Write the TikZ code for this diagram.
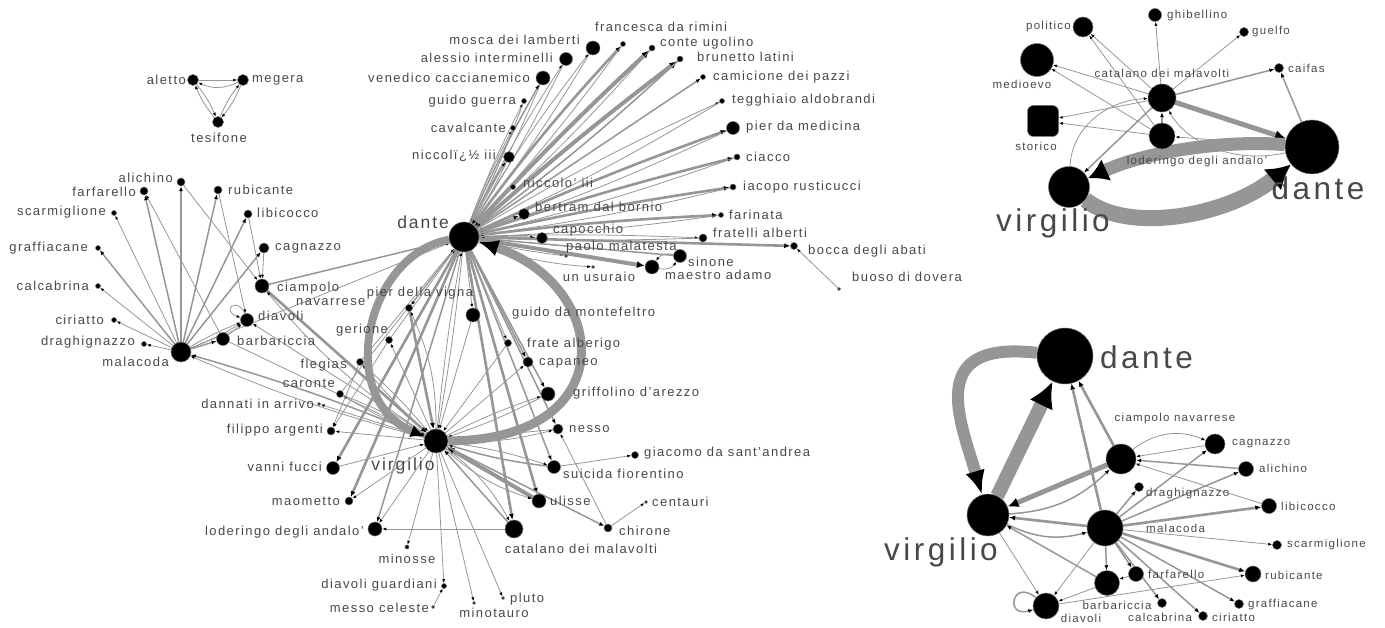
\documentclass[tikz,border=0pt]{standalone}
\usepackage{fontspec}
\setmainfont{Liberation Sans}[LetterSpace=11]
\usetikzlibrary{arrows.meta,backgrounds}
\definecolor{eg}{RGB}{150,150,150}
\definecolor{tx}{RGB}{72,72,72}
\tikzset{
 nd/.style={circle,fill=black,draw=black!55,line width=0.5pt,inner sep=0pt,minimum size=#1},
 lb/.style={text=tx,font=\fontsize{13}{13}\selectfont,inner sep=0pt},
 lbs/.style={text=tx,font=\fontsize{11.5}{11.5}\selectfont,inner sep=0pt},
 lbm/.style={text=tx,font=\fontsize{17.5}{17.5}\selectfont,inner sep=0pt},
 lbh/.style={text=tx,font=\fontsize{31.5}{31.5}\selectfont,inner sep=0pt},
 a1/.style={draw=eg,line width=0.8pt,-{Latex[color=black,length=4pt,width=3pt]}},
 a2/.style={draw=eg,line width=1.5pt,-{Latex[color=black,length=5pt,width=4pt]}},
 a3/.style={draw=eg,line width=2.6pt,-{Latex[color=black,length=6pt,width=5pt]}},
 a4/.style={draw=eg,line width=4pt,-{Latex[color=black,length=8pt,width=7pt]}},
}
\begin{document}
\begin{tikzpicture}[x=1pt,y=-1pt]
\useasboundingbox (0,0) rectangle (1385,628);
% ================= main graph nodes
\node[nd=30] (dante) at (464,237) {};
\node[nd=24] (virg) at (436,441) {};
\node[lbm,anchor=east] (ldante) at (449,222) {dante};
\node[lbm] (lvirg) at (403,466) {virgilio};
% furies
\node[nd=11] (aletto) at (193,80) {};
\node[nd=11] (megera) at (243,80) {};
\node[nd=11] (tesi) at (218,122) {};
\node[lb,anchor=east] (laletto) at (186,80) {aletto};
\node[lb,anchor=west] (lmegera) at (252,80) {megera};
\node[lb] (ltesi) at (219,138) {tesifone};
% malebranche
\node[nd=8] (alich) at (181,182) {};
\node[nd=8] (farf) at (144,191) {};
\node[nd=8] (rubi) at (218,190) {};
\node[nd=5] (scarm) at (114,213) {};
\node[nd=8] (libi) at (248,214) {};
\node[nd=5] (graff) at (98,248) {};
\node[nd=10] (cagn) at (264,248) {};
\node[nd=5] (calc) at (98,286) {};
\node[nd=14] (ciamp) at (262,286) {};
\node[nd=5] (ciri) at (114,320) {};
\node[nd=13] (diav) at (247,320) {};
\node[nd=5] (drag) at (144,344) {};
\node[nd=13] (barb) at (223,339) {};
\node[nd=20] (mala) at (181,352) {};
\node[lb,anchor=east] (lalich) at (173,178) {alichino};
\node[lb,anchor=east] (lfarf) at (136,192) {farfarello};
\node[lb,anchor=west] (lrubi) at (228,190) {rubicante};
\node[lb,anchor=east] (lscarm) at (106,212) {scarmiglione};
\node[lb,anchor=west] (llibi) at (257,213) {libicocco};
\node[lb,anchor=east] (lgraff) at (88,248) {graffiacane};
\node[lb,anchor=west] (lcagn) at (275,248) {cagnazzo};
\node[lb,anchor=east] (lcalc) at (89,286) {calcabrina};
\node[lb,anchor=west] (lciamp) at (277,288) {ciampolo};
\node[lb,anchor=west] (lciampb) at (296,302) {navarrese};
\node[lb,anchor=east] (lciri) at (104,320) {ciriatto};
\node[lb,anchor=west] (ldiav) at (258,316) {diavoli};
\node[lb,anchor=east] (ldrag) at (135,342) {draghignazzo};
\node[lb,anchor=west] (lbarb) at (237,341) {barbariccia};
\node[lb,anchor=east] (lmala) at (169,362) {malacoda};
% lower left / bottom
\node[nd=7] (fleg) at (360,362) {};
\node[nd=7] (caronte) at (340,394) {};
\node[nd=3] (dann) at (319,404) {};
\node[nd=8] (filippo) at (331,431) {};
\node[nd=13] (vanni) at (333,468) {};
\node[nd=8] (maom) at (349,501) {};
\node[nd=14] (lod) at (375,529) {};
\node[nd=4] (minosse) at (407,547) {};
\node[nd=5] (dguard) at (444,586) {};
\node[nd=3] (messo) at (433,607) {};
\node[nd=3] (minot) at (474,603) {};
\node[nd=3] (pluto) at (503,598) {};
\node[nd=18] (cata) at (514,529) {};
\node[nd=14] (ulis) at (539,501) {};
\node[nd=8] (chir) at (608,528) {};
\node[nd=3] (cent) at (646,502) {};
\node[nd=7] (giac) at (635,455) {};
\node[nd=13] (suic) at (554,467) {};
\node[nd=10] (nesso) at (558,429) {};
\node[nd=14] (griff) at (548,394) {};
\node[nd=10] (capa) at (528,362) {};
\node[nd=7] (frate) at (508,343) {};
\node[nd=14] (guido) at (473,315) {};
\node[nd=7] (ger) at (389,340) {};
\node[nd=7] (pier) at (409,308) {};
\node[lb,anchor=east] (lfleg) at (347,365) {flegias};
\node[lb,anchor=east] (lcaronte) at (335,383) {caronte};
\node[lb,anchor=east] (ldann) at (314,404) {dannati in arrivo};
\node[lb,anchor=east] (lfilippo) at (323,430) {filippo argenti};
\node[lb,anchor=east] (lvanni) at (322,467) {vanni fucci};
\node[lb,anchor=east] (lmaom) at (340,501) {maometto};
\node[lb,anchor=east] (llod) at (364,532) {loderingo degli andalo'};
\node[lb] (lminosse) at (407,559) {minosse};
\node[lb,anchor=east] (ldguard) at (437,585) {diavoli guardiani};
\node[lb,anchor=east] (lmesso) at (429,608) {messo celeste};
\node[lb] (lminot) at (494,613) {minotauro};
\node[lb,anchor=west] (lpluto) at (510,599) {pluto};
\node[lb] (lcata) at (581,549) {catalano dei malavolti};
\node[lb,anchor=west] (lulis) at (550,501) {ulisse};
\node[lb,anchor=west] (lchir) at (619,531) {chirone};
\node[lb,anchor=west] (lcent) at (652,502) {centauri};
\node[lb,anchor=west] (lgiac) at (644,453) {giacomo da sant'andrea};
\node[lb,anchor=west] (lsuic) at (563,474) {suicida fiorentino};
\node[lb,anchor=west] (lnesso) at (569,429) {nesso};
\node[lb,anchor=west] (lgriff) at (573,393) {griffolino d'arezzo};
\node[lb,anchor=west] (lcapa) at (539,363) {capaneo};
\node[lb,anchor=west] (lfrate) at (527,344) {frate alberigo};
\node[lb,anchor=west] (lguido) at (512,313) {guido da montefeltro};
\node[lb] (lger) at (362,330) {gerione};
\node[lb] (lpier) at (420,293) {pier della vigna};
% dante fan
\node[nd=5] (fran) at (623,44) {};
\node[nd=14] (mosca) at (593,48) {};
\node[nd=6] (conte) at (652,48) {};
\node[nd=13] (alessio) at (566,59) {};
\node[nd=6] (brun) at (680,59) {};
\node[nd=14] (vene) at (543,78) {};
\node[nd=5] (cami) at (703,77) {};
\node[nd=5] (gguerra) at (524,101) {};
\node[nd=5] (tegg) at (722,101) {};
\node[nd=5] (caval) at (513,128) {};
\node[nd=13] (pmed) at (733,128) {};
\node[nd=11] (nicA) at (509,157) {};
\node[nd=6] (ciacco) at (737,157) {};
\node[nd=5] (nicB) at (513,187) {};
\node[nd=6] (iacopo) at (733,187) {};
\node[nd=11] (bertram) at (524,214) {};
\node[nd=5] (farinata) at (721,215) {};
\node[nd=11] (capo) at (542,238) {};
\node[nd=8] (frat) at (703,238) {};
\node[nd=7] (bocca) at (794,246) {};
\node[nd=3] (paolo) at (566,256) {};
\node[nd=13] (sinone) at (680,256) {};
\node[nd=3] (usur) at (593,267) {};
\node[nd=14] (adamo) at (652,267) {};
\node[nd=3] (buoso) at (839,289) {};
\node[lb] (lfran) at (661,27) {francesca da rimini};
\node[lb,anchor=east] (lmosca) at (580,40) {mosca dei lamberti};
\node[lb,anchor=west] (lconte) at (660,43) {conte ugolino};
\node[lb,anchor=east] (lalessio) at (553,58) {alessio interminelli};
\node[lb,anchor=west] (lbrun) at (697,57) {brunetto latini};
\node[lb,anchor=east] (lvene) at (530,78) {venedico caccianemico};
\node[lb,anchor=west] (lcami) at (713,77) {camicione dei pazzi};
\node[lb,anchor=east] (lgguerra) at (516,101) {guido guerra};
\node[lb,anchor=west] (ltegg) at (732,100) {tegghiaio aldobrandi};
\node[lb,anchor=east] (lcaval) at (506,128) {cavalcante};
\node[lb,anchor=west] (lpmed) at (746,127) {pier da medicina};
\node[lb,anchor=east] (lnicA) at (496,156) {niccolï¿½ iii};
\node[lb,anchor=west] (lciacco) at (746,157) {ciacco};
\node[lb,anchor=west] (lnicB) at (523,183) {niccolo' iii};
\node[lb,anchor=west] (liacopo) at (743,187) {iacopo rusticucci};
\node[lb,anchor=west] (lbertram) at (535,207) {bertram dal bornio};
\node[lb,anchor=west] (lfarinata) at (729,215) {farinata};
\node[lb,anchor=west] (lcapo) at (553,230) {capocchio};
\node[lb,anchor=west] (lfrat) at (713,233) {fratelli alberti};
\node[lb,anchor=west] (lbocca) at (808,251) {bocca degli abati};
\node[lb,anchor=west] (lpaolo) at (566,247) {paolo malatesta};
\node[lb,anchor=west] (lsinone) at (688,262) {sinone};
\node[lb] (lusur) at (599,277) {un usuraio};
\node[lb,anchor=west] (ladamo) at (665,275) {maestro adamo};
\node[lb,anchor=west] (lbuoso) at (852,277) {buoso di dovera};
% ================= top right graph
\node[nd=20] (polit) at (1083,27) {};
\node[nd=13] (ghib) at (1155,15) {};
\node[nd=9] (guelfo) at (1244,32) {};
\node[nd=33] (medio) at (1037,60) {};
\node[nd=9] (caifas) at (1279,68) {};
\node[nd=28] (cata2) at (1162,98) {};
\node[rectangle,rounded corners=6pt,fill=black,draw=black!55,line width=0.5pt,minimum size=31pt,inner sep=0pt] (stor) at (1043,121) {};
\node[nd=26] (lod2) at (1162,136) {};
\node[nd=54] (dante2) at (1312,147) {};
\node[nd=41] (virg2) at (1069,187) {};
\node[lbs,anchor=east] (lpolit) at (1071,27) {politico};
\node[lbs,anchor=west] (lghib) at (1167,16) {ghibellino};
\node[lbs,anchor=west] (lguelfo) at (1252,32) {guelfo};
\node[lbs] (lmedio) at (1022,84) {medioevo};
\node[lbs,anchor=west] (lcaifas) at (1288,68) {caifas};
\node[lbs] (lcata2) at (1162,73) {catalano dei malavolti};
\node[lbs] (lstor) at (1036,146) {storico};
\node[lbs] (llod2) at (1197,162) {loderingo degli andalo'};
\node[lbh] (ldante2) at (1318,188) {dante};
\node[lbh] (lvirg2) at (1053,223) {virgilio};
% ================= bottom right graph
\node[nd=56] (dante3) at (1065,356) {};
\node[nd=42] (virg3) at (988,515) {};
\node[nd=30] (ciamp3) at (1121,459) {};
\node[nd=20] (cagn3) at (1215,444) {};
\node[nd=15] (alich3) at (1246,469) {};
\node[nd=9] (drag3) at (1139,487) {};
\node[nd=15] (libi3) at (1269,506) {};
\node[nd=36] (mala3) at (1105,528) {};
\node[nd=9] (scarm3) at (1277,545) {};
\node[nd=15] (farf3) at (1136,574) {};
\node[nd=16] (rubi3) at (1253,574) {};
\node[nd=25] (barb3) at (1107,583) {};
\node[nd=9] (calc3) at (1162,603) {};
\node[nd=9] (graff3) at (1239,604) {};
\node[nd=9] (ciri3) at (1203,616) {};
\node[nd=26] (diav3) at (1046,606) {};
\node[lbh,anchor=west] (ldante3) at (1100,357) {dante};
\node[lbh] (lvirg3) at (941,552) {virgilio};
\node[lbs] (lciamp3) at (1175,419) {ciampolo navarrese};
\node[lbs,anchor=west] (lcagn3) at (1232,444) {cagnazzo};
\node[lbs,anchor=west] (lalich3) at (1259,468) {alichino};
\node[lbs,anchor=west] (ldrag3) at (1146,494) {draghignazzo};
\node[lbs,anchor=west] (llibi3) at (1281,506) {libicocco};
\node[lbs,anchor=west] (lmala3) at (1146,528) {malacoda};
\node[lbs,anchor=west] (lscarm3) at (1287,545) {scarmiglione};
\node[lbs,anchor=west] (lfarf3) at (1148,574) {farfarello};
\node[lbs,anchor=west] (lrubi3) at (1265,575) {rubicante};
\node[lbs] (lbarb3) at (1117,605) {barbariccia};
\node[lbs] (lcalc3) at (1160,617) {calcabrina};
\node[lbs,anchor=west] (lgraff3) at (1248,605) {graffiacane};
\node[lbs,anchor=west] (lciri3) at (1212,617) {ciriatto};
\node[lbs] (ldiav3) at (1081,618) {diavoli};

\begin{pgfonlayer}{background}
% furies
\draw[a1] (aletto) -- (megera);
\draw[a1] (megera) to[bend left=25] (aletto);
\draw[a1] (aletto) to[bend left=8] (tesi); \draw[a1] (tesi) to[bend left=8] (aletto);
\draw[a1] (megera) to[bend left=8] (tesi); \draw[a1] (tesi) to[bend left=8] (megera);
% dante fan
\draw[a3] (dante) to[bend left=3] (fran); \draw[a1] (fran) to[bend left=3] (dante);
\draw[a1] (dante) to[bend left=3] (mosca); \draw[a1] (mosca) to[bend left=3] (dante);
\draw[a4] (dante) to[bend left=2] (conte); \draw[a1] (conte) to[bend left=3] (dante);
\draw[a1] (dante) to[bend left=3] (alessio); \draw[a1] (alessio) to[bend left=3] (dante);
\draw[a4] (dante) to[bend left=2] (brun); \draw[a2] (brun) to[bend left=3] (dante);
\draw[a2] (dante) to[bend left=3] (vene); \draw[a1] (vene) to[bend left=3] (dante);
\draw[a2] (dante) -- (cami);
\draw[a1] (dante) to[bend left=3] (gguerra); \draw[a1] (gguerra) to[bend left=3] (dante);
\draw[a1] (dante) to[bend left=3] (tegg); \draw[a1] (tegg) to[bend left=3] (dante);
\draw[a1] (dante) to[bend left=3] (caval); \draw[a1] (caval) to[bend left=3] (dante);
\draw[a3] (dante) to[bend left=2] (pmed); \draw[a1] (pmed) to[bend left=3] (dante);
\draw[a2] (dante) to[bend left=3] (nicA); \draw[a1] (nicA) to[bend left=3] (dante);
\draw[a3] (dante) to[bend left=2] (ciacco); \draw[a1] (ciacco) to[bend left=3] (dante);
\draw[a1] (nicB) -- (dante);
\draw[a3] (dante) to[bend left=2] (iacopo); \draw[a1] (iacopo) to[bend left=3] (dante);
\draw[a2] (dante) -- (bertram);
\draw[a3] (dante) to[bend left=2] (farinata); \draw[a1] (farinata) to[bend left=3] (dante);
\draw[a3] (dante) -- (capo);
\draw[a1] (dante) to[bend left=2] (frat); \draw[a1] (frat) to[bend left=2] (dante);
\draw[a3] (dante) -- (bocca);
\draw[a1] (buoso) -- (bocca);
\draw[a1] (dante) to[bend left=3] (paolo); \draw[a1] (paolo) to[bend left=3] (dante);
\draw[a2] (sinone) -- (dante);
\draw[a4] (dante) -- (adamo);
\draw[a1] (sinone) to[bend right=35] (adamo); \draw[a1] (adamo) to[bend right=35] (sinone);
\draw[a1] (dante) to[bend right=8] (usur);
% virgilio and lower nodes
\draw[a1] (virg) -- (minosse);
\draw[a1] (virg) -- (minot);
\draw[a1] (virg) -- (pluto);
\draw[a1] (virg) -- (dguard);
\draw[a1] (messo) -- (dguard);
\draw[a1] (virg) -- (lod);
\draw[a1] (cata) -- (lod);
\draw[a2] (dante) -- (lod);
\draw[a3] (dante) -- (maom);
\draw[a1] (virg) -- (maom);
\draw[a3] (dante) -- (vanni);
\draw[a1] (vanni) -- (virg);
\draw[a1] (virg) -- (filippo);
\draw[a1] (fleg) -- (filippo);
\draw[a1] (ger) -- (filippo);
\draw[a1] (virg) -- (dann);
\draw[a1] (virg) to[bend left=4] (caronte); \draw[a1] (caronte) to[bend left=4] (virg);
\draw[a1] (virg) to[bend left=4] (fleg); \draw[a1] (fleg) to[bend left=4] (virg);
\draw[a1] (caronte) -- (dante);
\draw[a1] (fleg) -- (dante);
\draw[a1] (ger) -- (dante);
\draw[a1] (virg) -- (ger);
\draw[a1] (dante) -- (pier);
\draw[a3] (pier) -- (virg);
\draw[a1] (virg) to[bend right=12] (pier);
\draw[a1] (dante) -- (guido);
\draw[a1] (guido) -- (virg);
\draw[a1] (dante) -- (frate);
\draw[a1] (frate) -- (virg);
\draw[a2] (dante) -- (capa);
\draw[a1] (virg) -- (capa);
\draw[a2] (dante) -- (griff);
\draw[a1] (virg) to[bend left=4] (griff); \draw[a1] (griff) to[bend left=4] (virg);
\draw[a2] (dante) -- (nesso);
\draw[a1] (nesso) -- (virg); \draw[a1] (virg) to[bend right=8] (nesso);
\draw[a1] (chir) -- (nesso);
\draw[a2] (dante) -- (suic);
\draw[a1] (virg) to[bend left=5] (suic); \draw[a2] (suic) to[bend left=5] (virg);
\draw[a1] (suic) -- (giac);
\draw[a3] (dante) -- (ulis);
\draw[a4] (ulis) -- (virg);
\draw[a1] (virg) to[bend right=12] (ulis);
\draw[a3] (dante) -- (cata);
\draw[a1] (virg) to[bend left=12] (cata); \draw[a2] (cata) -- (virg);
\draw[a2] (virg) -- (chir);
\draw[a1] (chir) -- (cent);
\draw[a2] (ciamp) -- (dante);
\draw[a3] (ciamp) -- (virg);
\draw[a1] (virg) to[bend left=8] (ciamp);
\draw[a1] (mala) -- (dante);
\draw[a2] (virg) to[bend right=3] (mala); \draw[a1] (virg) to[bend left=4] (mala);
\draw[a1] (barb) -- (virg);
\draw[a1] (virg) -- (diav);
\draw[a1] (dante) to[bend left=2] (virg); \draw[a1] (virg) to[bend left=2] (dante);
\draw[draw=eg,line width=8pt,-{Latex[color=black,length=14pt,width=13pt]}] (dante) .. controls (365,255) and (335,400) .. (virg);
\draw[draw=eg,line width=9pt,-{Latex[color=black,length=20pt,width=17pt]}] (virg) .. controls (625,440) and (610,285) .. (dante);
% malacoda cluster
\draw[a2] (mala) -- (alich);
\draw[a2] (mala) -- (farf);
\draw[a2] (mala) -- (rubi);
\draw[a1] (mala) -- (scarm);
\draw[a2] (mala) -- (libi);
\draw[a2] (mala) -- (graff);
\draw[a2] (mala) -- (cagn);
\draw[a1] (mala) -- (calc);
\draw[a1] (mala) -- (ciri);
\draw[a1] (mala) -- (drag);
\draw[a2] (mala) -- (barb);
\draw[a1] (mala) to[bend left=4] (diav); \draw[a1] (mala) to[bend right=4] (diav);
\draw[a1] (alich) -- (ciamp);
\draw[a1] (libi) -- (ciamp);
\draw[a1] (cagn) -- (ciamp);
\draw[a1] (rubi) -- (diav);
\draw[a1] (barb) -- (farf);
\draw[a1] (barb) -- (diav);
\draw[a1] (diav) .. controls (238,296) and (220,310) .. (diav);
% ---- top right
\draw[a1] (cata2) -- (polit); \draw[a1] (lod2) -- (polit);
\draw[a1] (cata2) -- (ghib);
\draw[a1] (cata2) -- (guelfo);
\draw[a1] (cata2) -- (medio); \draw[a1] (lod2) -- (medio);
\draw[a2] (cata2) -- (caifas);
\draw[a1] (cata2) -- (stor); \draw[a1] (lod2) -- (stor);
\draw[draw=eg,line width=5pt,-{Latex[color=black,length=11pt,width=10pt]}] (cata2) -- (dante2);
\draw[a2] (cata2) -- (virg2);
\draw[a2] (lod2) -- (cata2);
\draw[a2] (dante2) -- (caifas);
\draw[a1] (dante2) -- (lod2);
\draw[a1] (dante2) .. controls (1230,165) and (1185,140) .. (cata2);
\draw[a1] (virg2) .. controls (1072,125) and (1110,100) .. (cata2);
\draw[draw=eg,line width=13pt,-{Latex[color=black,length=20pt,width=24pt]}] (dante2) .. controls (1230,140) and (1150,150) .. (virg2);
\draw[draw=eg,line width=16pt,-{Latex[color=black,length=24pt,width=28pt]}] (virg2) .. controls (1130,235) and (1230,215) .. (dante2);
% ---- bottom right
\draw[draw=eg,line width=14pt,-{Latex[color=black,length=26pt,width=26pt]}] (virg3) -- (dante3);
\draw[draw=eg,line width=12pt,-{Latex[color=black,length=24pt,width=20pt]}] (dante3) .. controls (925,340) and (960,420) .. (virg3);
\draw[draw=eg,line width=5pt,-{Latex[color=black,length=11pt,width=10pt]}] (ciamp3) -- (virg3);
\draw[a3] (ciamp3) -- (dante3);
\draw[a3] (mala3) -- (dante3);
\draw[a3] (mala3) -- (virg3);
\draw[a2] (virg3) to[bend right=20] (ciamp3);
\draw[a2] (virg3) to[bend right=20] (mala3);
\draw[a2] (barb3) -- (virg3);
\draw[a1] (virg3) -- (diav3);
\draw[a2] (diav3) .. controls (1012,578) and (1004,618) .. (diav3);
\draw[a1] (mala3) -- (diav3);
\draw[a2] (mala3) -- (barb3);
\draw[a2] (mala3) -- (farf3);
\draw[a2] (mala3) -- (calc3);
\draw[a2] (mala3) -- (ciri3);
\draw[a2] (mala3) -- (graff3);
\draw[a3] (mala3) -- (rubi3);
\draw[a1] (mala3) -- (scarm3);
\draw[a3] (mala3) -- (libi3);
\draw[a2] (mala3) -- (alich3);
\draw[a2] (mala3) -- (cagn3);
\draw[a2] (mala3) -- (drag3);
\draw[a1] (barb3) -- (diav3);
\draw[a1] (farf3) -- (barb3);
\draw[a1] (diav3) -- (rubi3);
\draw[a1] (cagn3) -- (ciamp3);
\draw[a2] (alich3) -- (ciamp3);
\draw[a1] (libi3) -- (ciamp3);
\draw[a1] (ciamp3) to[bend left=30] (cagn3);
\end{pgfonlayer}
\end{tikzpicture}
\end{document}
